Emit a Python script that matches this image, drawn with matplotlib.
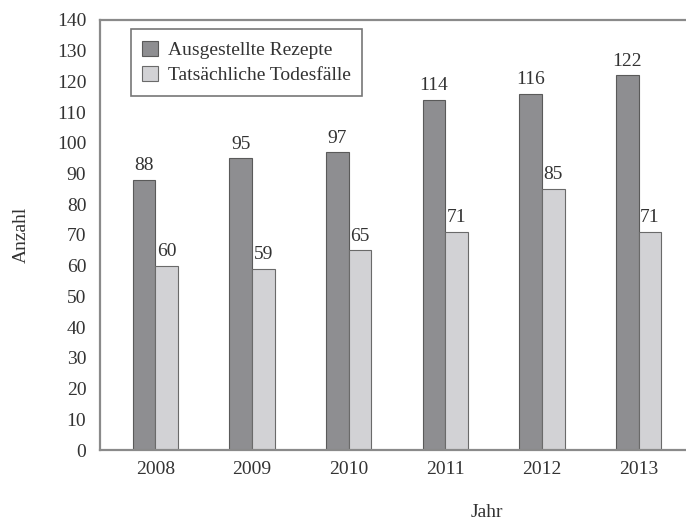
import numpy as np
import matplotlib.pyplot as plt

# Verschriebene Rezepte vs. tatsächliche Todesfälle pro Jahr
years = ["2008", "2009", "2010", "2011", "2012", "2013"]
rezepte = [88, 95, 97, 114, 116, 122]
todesfaelle = [60, 59, 65, 71, 85, 71]

plt.rcParams["font.family"] = ["Liberation Serif", "DejaVu Serif"]
text_col = "#333333"
fs = 14

fig = plt.figure(figsize=(6.86, 5.2), dpi=100)
ax = fig.add_axes([0.146, 0.1346, 0.854, 0.827])

x = np.arange(len(years))
w = 0.235
b1 = ax.bar(x - w / 2, rezepte, w, color="#8e8e91", edgecolor="#5a5a5a",
            linewidth=0.8, label="Ausgestellte Rezepte")
b2 = ax.bar(x + w / 2, todesfaelle, w, color="#d2d2d5", edgecolor="#6a6a6a",
            linewidth=0.8, label="Tatsächliche Todesfälle")

for bars, vals in [(b1, rezepte), (b2, todesfaelle)]:
    for bar, v in zip(bars, vals):
        ax.text(bar.get_x() + bar.get_width() / 2, v + 1.8, str(v),
                ha="center", va="bottom", fontsize=fs, color=text_col)

ax.set_xlim(-0.57, 5.49)
ax.set_ylim(0, 140)
ax.set_yticks(range(0, 141, 10))
ax.set_xticks(x)
ax.set_xticklabels(years)
ax.tick_params(length=0, labelsize=fs, colors=text_col, pad=8)
ax.tick_params(axis="y", pad=10)

for s in ["left", "top", "bottom"]:
    ax.spines[s].set_color("#8a8a8a")
    ax.spines[s].set_linewidth(1.6)
ax.spines["right"].set_visible(False)

ax.set_ylabel("Anzahl", fontsize=fs, color=text_col)
ax.yaxis.set_label_coords(-0.12, 0.5)
ax.set_xlabel("Jahr", fontsize=fs, color=text_col)
ax.xaxis.set_label_coords(0.66, -0.125)

leg = ax.legend(loc="upper left", bbox_to_anchor=(0.052, 0.978), fontsize=fs,
                frameon=True, fancybox=False, handlelength=0.8, handleheight=0.8,
                borderpad=0.6, labelspacing=0.35, handletextpad=0.5,
                borderaxespad=0, labelcolor=text_col)
leg.get_frame().set_edgecolor("#555555")
leg.get_frame().set_linewidth(1.2)

fig.savefig("out.png", dpi=100)
